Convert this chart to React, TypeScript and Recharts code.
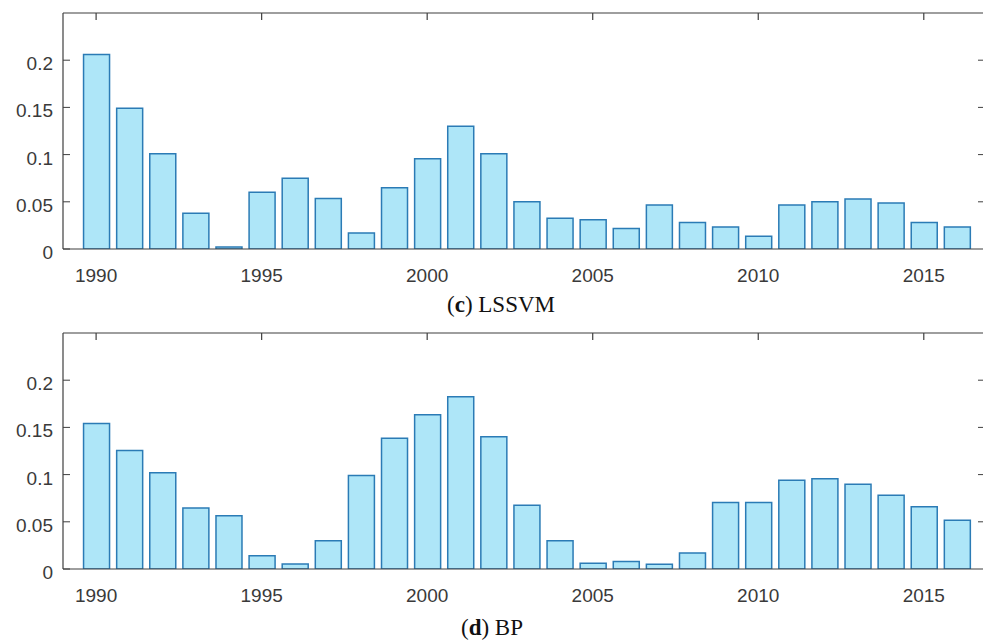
import React from 'react';
import { BarChart, Bar, XAxis, YAxis } from 'recharts';

const years = [
  1990, 1991, 1992, 1993, 1994, 1995, 1996, 1997, 1998, 1999,
  2000, 2001, 2002, 2003, 2004, 2005, 2006, 2007, 2008, 2009,
  2010, 2011, 2012, 2013, 2014, 2015, 2016,
];

const lssvmErrors = [
  0.206, 0.149, 0.101, 0.038, 0.002, 0.06, 0.075, 0.0535, 0.017, 0.065,
  0.0955, 0.13, 0.101, 0.05, 0.0325, 0.031, 0.0217, 0.0465, 0.028, 0.0234,
  0.0136, 0.0465, 0.05, 0.053, 0.0486, 0.028, 0.0234,
];

const bpErrors = [
  0.154, 0.1256, 0.102, 0.0646, 0.0565, 0.014, 0.0053, 0.03, 0.099, 0.1386,
  0.1635, 0.1825, 0.14, 0.0674, 0.03, 0.006, 0.008, 0.005, 0.017, 0.0705,
  0.0705, 0.094, 0.0955, 0.0898, 0.078, 0.066, 0.0516,
];

const xTicks = [1990, 1995, 2000, 2005, 2010, 2015];
const yTicks = [0, 0.05, 0.1, 0.15, 0.2];
const xDomain = [1989, 2017];
const yDomain = [0, 0.25];

const AXIS = '#3f3f3f';
const TEXT = '#3a3a3a';
const FILL = '#aee6f8';
const STROKE = '#2b7bb5';
const SANS = '"Liberation Sans", Arial, Helvetica, sans-serif';
const SERIF = '"Liberation Serif", "Times New Roman", serif';

const YTick = (props: any) => {
  const { x, y, payload } = props;
  return (
    <g>
      <line x1={x + 10} x2={x + 17} y1={y} y2={y} stroke={AXIS} strokeWidth={1} />
      <text x={x} y={y + 10} textAnchor="end" fontSize={19} fill={TEXT} fontFamily={SANS}>
        {String(payload.value)}
      </text>
    </g>
  );
};

const RightTick = (props: any) => {
  const { y, payload } = props;
  if (payload.value === 0) return <g />;
  return (
    <line x1={978} x2={990} y1={y} y2={y} stroke={AXIS} strokeWidth={1} data-v={payload.value} />
  );
};

const XTick = (props: any) => {
  const { x, y, payload } = props;
  return (
    <text x={x} y={y + 33} textAnchor="middle" fontSize={19} fill={TEXT} fontFamily={SANS}>
      {String(payload.value)}
    </text>
  );
};

const TopTick = (props: any) => {
  const { x, payload } = props;
  return (
    <line x1={x} x2={x} y1={13} y2={20} stroke={AXIS} strokeWidth={1.2} data-v={payload.value} />
  );
};

const Panel = ({ values, top }: { values: number[]; top: number }) => {
  const data = years.map((year, i) => ({ year, value: values[i] }));
  return (
    <div style={{ position: 'absolute', left: 0, top, width: 1000, height: 300 }}>
      <BarChart
        width={1000}
        height={300}
        data={data}
        margin={{ top: 0, right: 0, left: 0, bottom: 0 }}
      >
        <XAxis
          dataKey="year"
          type="number"
          domain={xDomain}
          ticks={xTicks}
          allowDataOverflow
          height={51}
          tickLine={false}
          tickSize={0}
          tickMargin={0}
          tick={<XTick />}
          axisLine={{ stroke: AXIS, strokeWidth: 1.2 }}
        />
        <XAxis
          xAxisId="top"
          dataKey="year"
          type="number"
          orientation="top"
          domain={xDomain}
          ticks={xTicks}
          allowDataOverflow
          height={13}
          tickLine={false}
          tickSize={0}
          tickMargin={0}
          tick={<TopTick />}
          axisLine={{ stroke: AXIS, strokeWidth: 1.2 }}
        />
        <YAxis
          domain={yDomain}
          ticks={yTicks}
          allowDataOverflow
          width={63}
          tickLine={false}
          tickSize={0}
          tickMargin={10}
          tick={<YTick />}
          axisLine={{ stroke: AXIS, strokeWidth: 1.2 }}
        />
        <YAxis
          yAxisId="right"
          orientation="right"
          domain={yDomain}
          ticks={yTicks}
          allowDataOverflow
          width={10}
          tickLine={false}
          tickSize={0}
          tickMargin={0}
          tick={<RightTick />}
          axisLine={{ stroke: AXIS, strokeWidth: 1.2 }}
        />
        <Bar
          dataKey="value"
          fill={FILL}
          stroke={STROKE}
          strokeWidth={1.5}
          barSize={26}
          isAnimationActive={false}
        />
      </BarChart>
    </div>
  );
};

const captionStyle: React.CSSProperties = {
  fontFamily: SERIF,
  fontSize: 23,
  fill: '#111',
};

export default function App() {
  return (
    <div
      style={{
        position: 'fixed',
        left: 0,
        top: 0,
        width: 983,
        height: 642,
        overflow: 'hidden',
        background: '#fff',
      }}
    >
      <Panel values={lssvmErrors} top={0} />
      <Panel values={bpErrors} top={320} />
      <svg
        width={983}
        height={642}
        style={{ position: 'absolute', left: 0, top: 0, pointerEvents: 'none' }}
      >
        <text x={501} y={312} textAnchor="middle" style={captionStyle}>
          (<tspan fontWeight="bold">c</tspan>) LSSVM
        </text>
        <text x={492} y={635} textAnchor="middle" style={captionStyle}>
          (<tspan fontWeight="bold">d</tspan>) BP
        </text>
      </svg>
    </div>
  );
}
